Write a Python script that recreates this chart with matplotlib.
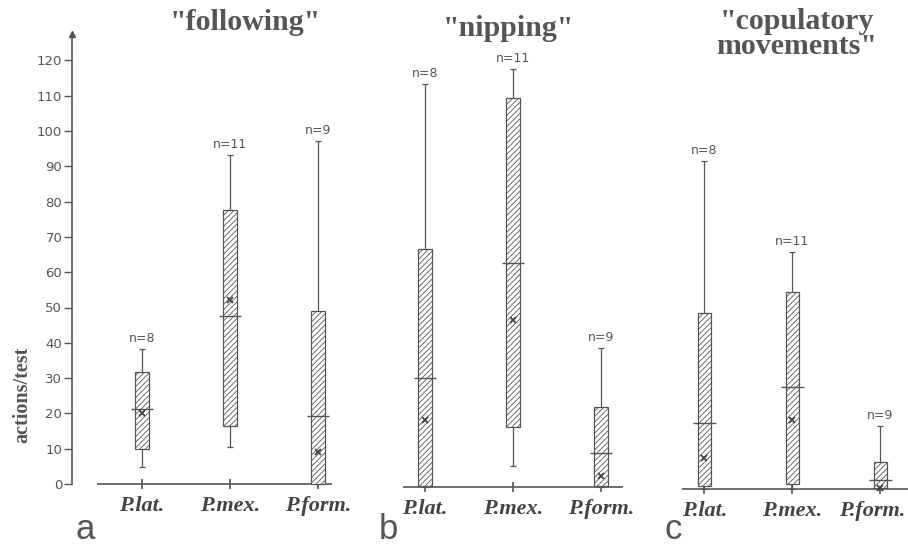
import matplotlib
matplotlib.use('Agg')
import matplotlib.pyplot as plt
import matplotlib.transforms as mtransforms

# ---------------- data ----------------
species = ['P.lat.', 'P.mex.', 'P.form.']
behaviours = ['"following"', '"nipping"', '"copulatory\nmovements"']
panel_letters = ['a', 'b', 'c']
n_values = [8, 11, 9]
y_ticks = [0, 10, 20, 30, 40, 50, 60, 70, 80, 90, 100, 110, 120]

following_low = [4.7, 10.4, 0.0]
following_q1 = [9.8, 16.4, 0.0]
following_median = [21.3, 47.6, 19.2]
following_q3 = [31.8, 77.6, 49.1]
following_high = [38.2, 93.1, 97.2]
following_mean = [20.0, 52.1, 9.1]

nipping_low = [0.0, 5.9, 0.0]
nipping_q1 = [0.3, 16.8, 0.3]
nipping_median = [30.9, 63.3, 9.6]
nipping_q3 = [67.3, 110.0, 22.7]
nipping_high = [114.0, 118.2, 39.2]
nipping_mean = [18.9, 47.2, 3.1]

copulatory_low = [0.0, 0.0, 0.0]
copulatory_q1 = [1.0, 1.5, 0.3]
copulatory_median = [18.7, 28.9, 2.6]
copulatory_q3 = [49.9, 56.0, 7.8]
copulatory_high = [93.0, 67.1, 18.0]
copulatory_mean = [8.8, 19.6, 0.5]

panels = [
    (following_low, following_q1, following_median, following_q3, following_high, following_mean),
    (nipping_low, nipping_q1, nipping_median, nipping_q3, nipping_high, nipping_mean),
    (copulatory_low, copulatory_q1, copulatory_median, copulatory_q3, copulatory_high, copulatory_mean),
]

# ---------------- layout ----------------
W, H = 908, 548
PPU = 3.53      # pixels per y unit
XPU = 88.0      # pixels per category step
YLO, YHI = -8, 132
# (left px, right px, baseline px from top, first category px, baseline start px, baseline end px)
layout = [
    (72, 342, 484.0, 142.0, 97, 332),
    (392, 632, 486.7, 425.0, 403, 623),
    (670, 908, 489.3, 704.3, 682, 908),
]

GRAY = '#555555'
DARK = '#444444'
plt.rcParams['hatch.linewidth'] = 0.6
plt.rcParams['hatch.color'] = '#777777'

fig = plt.figure(figsize=(W / 100, H / 100), dpi=100)
fig.patch.set_facecolor('white')

serif = 'Liberation Serif'
thin = 'DejaVu Sans'

for i, (data, lay) in enumerate(zip(panels, layout)):
    low, q1, med, q3, high, mean = data
    left_px, right_px, base_px, x0_px, bl0, bl1 = lay
    bottom_px = base_px - YLO * PPU
    top_px = base_px - YHI * PPU
    ax = fig.add_axes([left_px / W, 1 - bottom_px / H,
                       (right_px - left_px) / W, (bottom_px - top_px) / H])
    ax.set_ylim(YLO, YHI)
    ax.set_xlim((left_px - x0_px) / XPU, (right_px - x0_px) / XPU)
    ax.patch.set_alpha(0)
    for s in ['top', 'right']:
        ax.spines[s].set_visible(False)
    ax.spines['bottom'].set_position(('data', 0))
    ax.spines['bottom'].set_color('none')

    xs = list(range(len(species)))
    # baseline
    ax.plot([(bl0 - x0_px) / XPU, (bl1 - x0_px) / XPU], [0, 0],
            color=GRAY, lw=1.2, solid_capstyle='butt', zorder=1, clip_on=False)
    # whiskers
    ax.vlines(xs, low, q1, color=GRAY, lw=0.9, zorder=2)
    ax.vlines(xs, q3, high, color=GRAY, lw=0.9, zorder=2)
    ax.hlines(high, [x - 0.035 for x in xs], [x + 0.035 for x in xs], color=GRAY, lw=0.9)
    ax.hlines(low, [x - 0.035 for x in xs], [x + 0.035 for x in xs], color=GRAY, lw=0.9)
    # boxes
    heights = [b - a for a, b in zip(q1, q3)]
    ax.bar(xs, heights, bottom=q1, width=0.15, facecolor='white',
           edgecolor=GRAY, linewidth=0.9, hatch='//////', zorder=3)
    # medians
    ax.hlines(med, [x - 0.13 for x in xs], [x + 0.13 for x in xs],
              color=GRAY, lw=1.0, zorder=4)
    # means
    ax.plot(xs, mean, linestyle='none', marker='x', ms=5, mew=1.3,
            color=DARK, zorder=5)
    # n labels
    for x, h, n in zip(xs, high, n_values):
        ax.annotate(f'n={n}', (x, h), xytext=(0, 3), textcoords='offset points',
                    ha='center', va='bottom', fontsize=9, color=GRAY,
                    family=thin)

    ax.set_xticks(xs)
    labels = ax.set_xticklabels(species, family=serif, fontweight='bold',
                                fontstyle='italic', fontsize=16, color=DARK)
    ax.tick_params(axis='x', direction='inout', length=7, width=1.2,
                   color=GRAY, pad=5)
    if i == 2:
        shift = mtransforms.ScaledTranslation(-8 / 100, 0, fig.dpi_scale_trans)
        labels[-1].set_transform(labels[-1].get_transform() + shift)

    if i == 0:
        ax.spines['left'].set_bounds(0, 127)
        ax.spines['left'].set_color(GRAY)
        ax.spines['left'].set_linewidth(1.2)
        ax.set_yticks(y_ticks)
        ax.set_yticklabels([str(t) for t in y_ticks], family=thin,
                           fontsize=9.5, color=GRAY)
        ax.tick_params(axis='y', direction='out', length=6, width=1.0,
                       color=GRAY, pad=1)
        ax.plot([ax.get_xlim()[0]], [127.5], marker='^', ms=4, color=GRAY,
                clip_on=False)
    else:
        ax.spines['left'].set_visible(False)
        ax.set_yticks([])

# titles
fig.text(245 / W, 1 - 22 / H, behaviours[0], ha='center', va='center',
         family=serif, fontweight='bold', fontsize=21.5, color=GRAY)
fig.text(508 / W, 1 - 28 / H, behaviours[1], ha='center', va='center',
         family=serif, fontweight='bold', fontsize=21.5, color=GRAY)
fig.text(797 / W, 1 - 34 / H, behaviours[2], ha='center', va='center',
         family=serif, fontweight='bold', fontsize=21.5, color=GRAY,
         linespacing=0.9)

# panel letters
for letter, xp in zip(panel_letters, [85, 388, 673]):
    fig.text(xp / W, 1 - 539 / H, letter, ha='center', va='baseline',
             family='Liberation Sans', fontsize=25, color=GRAY)

# y label
fig.text(22 / W, 1 - 395 / H, 'actions/test', rotation=90, ha='center',
         va='center', family=serif, fontweight='bold', fontsize=14.5, color=GRAY)

fig.savefig('out.png', dpi=100, facecolor='white')
